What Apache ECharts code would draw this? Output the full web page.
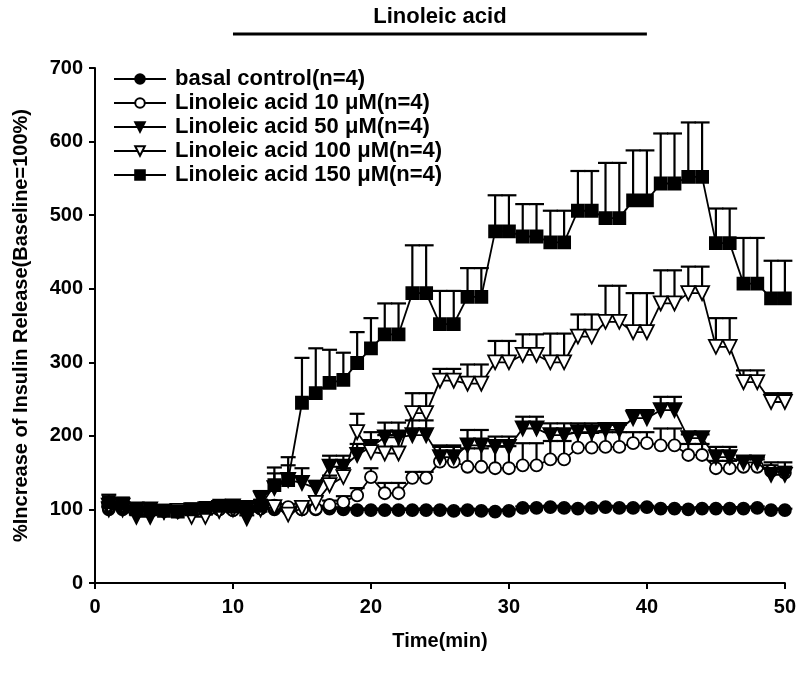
<!DOCTYPE html>
<html><head><meta charset="utf-8">
<script src="https://cdn.jsdelivr.net/npm/echarts@6/dist/echarts.min.js"></script>
<style>html,body{margin:0;padding:0;background:#fff}#c{width:799px;height:678px}</style>
</head><body><div id="c"></div>
<script>
const time = Array.from({length:50},(_,i)=>i+1);
const basal = [100,100,98,97,98,97,98,99,100,99,100,101,100,100,100,100,101,100,99,99,99,99,99,99,99,98,99,98,97,98,102,102,103,102,101,102,103,102,102,103,101,101,100,101,101,101,101,102,99,99];
const la10 = [103,104,100,99,98,97,98,99,100,99,101,102,105,103,100,101,106,110,119,144,122,122,143,143,165,165,158,158,156,156,160,160,168,168,184,184,185,185,190,190,187,187,174,174,156,156,158,158,152,150];
const la50 = [100,100,90,90,97,98,99,100,102,104,88,115,129,140,136,129,158,158,174,185,198,198,201,201,171,171,187,187,185,185,210,210,201,201,205,205,208,208,224,224,235,235,197,197,171,171,164,164,147,147];
const la100 = [105,105,100,100,97,98,90,90,98,100,102,100,103,93,102,109,133,144,205,178,176,176,231,231,275,275,271,271,300,300,310,310,300,300,335,335,355,355,341,341,380,380,394,394,321,321,273,273,246,246];
const la150 = [110,108,100,100,98,97,100,102,105,104,103,105,133,140,245,258,272,276,299,319,338,338,394,394,352,352,389,389,478,478,471,471,463,463,506,506,496,496,520,520,543,543,552,552,462,462,407,407,387,387];
const errBasal = [3,3,2,2,2,2,2,2,2,2,2,2,2,2,2,2,2,2,2,2,2,2,2,2,2,2,2,2,2,2,2,2,2,2,2,2,2,2,2,2,2,2,2,2,2,2,2,2,2,2];
const err10 = [5,5,3,3,3,3,3,3,3,3,3,3,4,4,4,4,6,8,10,12,14,14,8,8,20,20,25,25,30,30,30,30,25,25,20,20,20,20,15,15,23,23,15,15,10,10,10,10,8,8];
const err50 = [5,5,3,3,3,3,3,3,4,4,4,10,20,20,20,10,15,15,15,20,20,20,20,20,16,16,21,21,14,14,16,16,16,16,12,12,7,7,11,11,18,18,5,5,14,14,7,7,17,17];
const err100 = [5,5,3,3,3,3,3,3,3,3,3,3,4,6,6,8,13,12,25,15,25,25,27,27,16,16,26,26,29,29,28,28,39,39,30,30,49,49,53,53,45,45,36,36,39,39,16,16,12,12];
const err150 = [10,8,4,4,4,4,4,4,6,6,6,8,24,31,61,61,45,37,42,41,42,42,65,65,45,45,39,39,49,49,44,44,43,43,54,54,75,75,68,68,68,68,74,74,47,47,62,62,51,51];
const names = ['basal control(n=4)','Linoleic acid 10 μM(n=4)','Linoleic acid 50 μM(n=4)','Linoleic acid 100 μM(n=4)','Linoleic acid 150 μM(n=4)'];
const treatStart = 10, treatEnd = 40;

const FONT = '"Liberation Sans", Arial, sans-serif';
const downTri = 'path://M0,0 L10,0 L5,9 Z';
const series = [basal, la10, la50, la100, la150];
const errs = [errBasal, err10, err50, err100, err150];
const symbols = ['circle','circle',downTri,downTri,'rect'];
const fills = ['#000','#fff','#000','#fff','#000'];
const sizes = [12,12,14,14,12];

const opt = {
  animation:false,
  backgroundColor:'#fff',
  grid:{left:95,right:14,top:68,bottom:95,containLabel:false},
  xAxis:{type:'value',min:0,max:50,interval:10,
    name:'Time(min)',nameLocation:'middle',nameGap:48,
    nameTextStyle:{fontFamily:FONT,fontWeight:'bold',fontSize:20,color:'#000'},
    axisLine:{onZero:false,lineStyle:{color:'#000',width:2}},
    axisTick:{show:true,length:6,lineStyle:{color:'#000',width:2}},
    axisLabel:{fontFamily:FONT,fontWeight:'bold',fontSize:20,color:'#000',margin:14},
    splitLine:{show:false}},
  yAxis:{type:'value',min:0,max:700,interval:100,
    name:'%Increase of Insulin Release(Baseline=100%)',nameLocation:'middle',nameGap:64,
    nameTextStyle:{fontFamily:FONT,fontWeight:'bold',fontSize:20,color:'#000'},
    axisLine:{show:true,lineStyle:{color:'#000',width:2}},
    axisTick:{show:true,length:6,lineStyle:{color:'#000',width:2}},
    axisLabel:{fontFamily:FONT,fontWeight:'bold',fontSize:20,color:'#000',margin:12},
    splitLine:{show:false}},
  legend:{left:108,top:63,orient:'vertical',itemWidth:52,itemHeight:12,itemGap:2,
    data:names,
    textStyle:{fontFamily:FONT,fontWeight:'bold',fontSize:22,color:'#000',padding:[0,0,0,4]}},
  series:[]
};
series.forEach((d,k)=>{
  const e = errs[k];
  opt.series.push({
    type:'custom',name:'err'+k,z:2,silent:true,
    data:time.map((t,i)=>[t,d[i],d[i]+e[i]]),
    renderItem:(params,api)=>{
      const p0 = api.coord([api.value(0),api.value(1)]);
      const p1 = api.coord([api.value(0),api.value(2)]);
      const st = {stroke:'#000',lineWidth:2.2};
      return {type:'group',children:[
        {type:'line',shape:{x1:p0[0],y1:p0[1],x2:p1[0],y2:p1[1]},style:st},
        {type:'line',shape:{x1:p1[0]-7.5,y1:p1[1],x2:p1[0]+7.5,y2:p1[1]},style:st}
      ]};
    }
  });
});
series.forEach((d,k)=>{
  opt.series.push({
    type:'line',name:names[k],z:3+k,
    data:time.map((t,i)=>[t,d[i]]),
    symbol:symbols[k],symbolSize:sizes[k],showSymbol:true,
    lineStyle:{color:'#000',width:1.8},
    itemStyle:{color:fills[k],borderColor:'#000',borderWidth:1.8}
  });
});
const chart = echarts.init(document.getElementById('c'),null,{renderer:'canvas'});
chart.setOption(opt);
const xa = chart.convertToPixel({xAxisIndex:0},treatStart);
const xb = chart.convertToPixel({xAxisIndex:0},treatEnd);
chart.setOption({graphic:[
  {type:'line',shape:{x1:xa,y1:34,x2:xb,y2:34},style:{stroke:'#000',lineWidth:3}},
  {type:'text',x:(xa+xb)/2,y:17,style:{text:'Linoleic acid',font:'bold 22px '+FONT,fill:'#000',textAlign:'center',textVerticalAlign:'middle'}}
]});
</script></body></html>
